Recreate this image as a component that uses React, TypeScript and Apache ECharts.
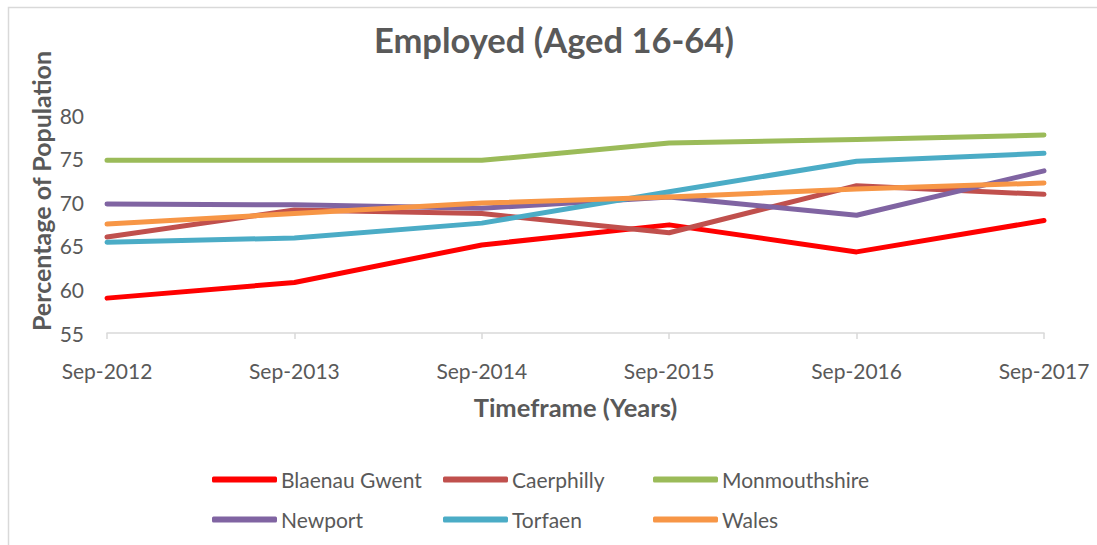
import React, { useEffect, useRef } from "react";
import * as echarts from "echarts";

const categories = ["Sep-2012", "Sep-2013", "Sep-2014", "Sep-2015", "Sep-2016", "Sep-2017"];
const blaenauGwent = [59.0, 60.8, 65.1, 67.4, 64.3, 67.9];
const caerphilly = [66.0, 69.1, 68.7, 66.5, 71.9, 70.9];
const monmouthshire = [74.8, 74.8, 74.8, 76.8, 77.2, 77.7];
const newport = [69.8, 69.7, 69.3, 70.6, 68.5, 73.6];
const torfaen = [65.4, 65.9, 67.6, 71.2, 74.7, 75.6];
const wales = [67.5, 68.7, 69.9, 70.6, 71.5, 72.2];
const yTicks = [55, 60, 65, 70, 75, 80];

const seriesDefs = [
  { name: "Blaenau Gwent", data: blaenauGwent, color: "#FF0000" },
  { name: "Caerphilly", data: caerphilly, color: "#C0504D" },
  { name: "Monmouthshire", data: monmouthshire, color: "#9BBB59" },
  { name: "Newport", data: newport, color: "#8064A2" },
  { name: "Torfaen", data: torfaen, color: "#4BACC6" },
  { name: "Wales", data: wales, color: "#F79646" },
];

const FONT = "Lato";
const GREY = "#595959";

export default function App() {
  const ref = useRef<HTMLDivElement>(null);
  useEffect(() => {
    if (!ref.current) return;
    const chart = echarts.init(ref.current, undefined, { renderer: "svg" });
    const legendCommon = {
      orient: "vertical" as const,
      top: 469,
      padding: 0,
      itemWidth: 65,
      itemHeight: 6,
      itemGap: 19,
      icon: "roundRect",
      textStyle: { fontFamily: FONT, fontSize: 21, color: GREY, padding: [0, 0, 0, -1] },
    };
    chart.setOption({
      animation: false,
      backgroundColor: "#FFFFFF",
      title: {
        text: "Employed (Aged 16-64)",
        left: 374,
        top: 22,
        padding: 0,
        textStyle: { fontFamily: FONT, fontSize: 34.5, fontWeight: "bold", color: GREY },
      },
      graphic: [
        {
          type: "rect",
          shape: { x: 8.5, y: 7.5, width: 1200, height: 700 },
          style: { fill: "none", stroke: "#D9D9D9", lineWidth: 1.5 },
          silent: true,
          z: -1,
        },
        {
          type: "text",
          x: 41,
          y: 191,
          rotation: Math.PI / 2,
          style: {
            text: "Percentage of Population",
            fontFamily: FONT,
            fontSize: 25,
            fontWeight: "bold",
            fill: GREY,
            align: "center",
            verticalAlign: "middle",
          },
        },
      ],
      legend: [
        { ...legendCommon, left: 212, data: ["Blaenau Gwent", "Newport"] },
        { ...legendCommon, left: 443, data: ["Caerphilly", "Torfaen"] },
        { ...legendCommon, left: 653, data: ["Monmouthshire", "Wales"] },
      ],
      grid: { left: 107, right: 53, top: 115, bottom: 212, containLabel: false },
      xAxis: {
        type: "category",
        data: categories,
        boundaryGap: false,
        axisLine: { lineStyle: { color: "#D9D9D9", width: 1.5 } },
        axisTick: { show: true, length: 6, lineStyle: { color: "#D9D9D9", width: 1.5 } },
        axisLabel: { fontFamily: FONT, fontSize: 21, color: GREY, margin: 27 },
        name: "Timeframe (Years)",
        nameLocation: "middle",
        nameGap: 61,
        nameTextStyle: { fontFamily: FONT, fontSize: 25.5, fontWeight: "bold", color: GREY },
      },
      yAxis: {
        type: "value",
        min: 55,
        max: 80,
        interval: 5,
        axisLine: { show: false },
        axisTick: { show: false },
        splitLine: { show: false },
        axisLabel: {
          fontFamily: FONT,
          fontSize: 21,
          color: GREY,
          margin: 23,
          customValues: yTicks,
        },
      },
      series: seriesDefs.map((s) => ({
        name: s.name,
        type: "line",
        data: s.data,
        showSymbol: false,
        symbol: "none",
        color: s.color,
        lineStyle: { width: 5, color: s.color, cap: "round", join: "round" },
      })),
    });
    return () => chart.dispose();
  }, []);
  return (
    <div
      ref={ref}
      style={{ position: "fixed", left: 0, top: 0, width: 1097, height: 545 }}
    />
  );
}
